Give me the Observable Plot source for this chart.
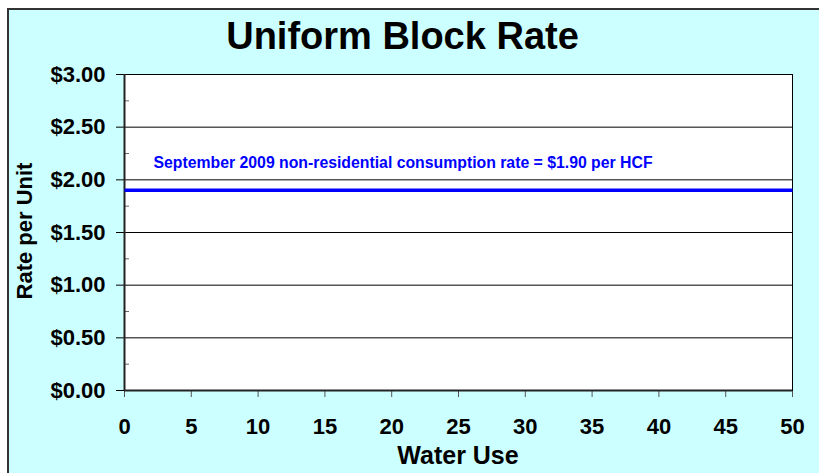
<!DOCTYPE html>
<html>
<head>
<meta charset="utf-8">
<script src="https://cdn.jsdelivr.net/npm/d3@7"></script>
<script src="https://cdn.jsdelivr.net/npm/@observablehq/plot@0.6"></script>
<style>
  html, body { margin: 0; padding: 0; background: #ffffff; overflow: hidden; width: 819px; height: 473px; }
  body { position: relative; font-family: "Liberation Sans", Arial, sans-serif; }
  #frame { position: absolute; left: 7px; top: 8px; width: 900px; height: 600px;
           background: #CCFFFF; border: 2px solid #333333; box-sizing: border-box; }
  .lbl { position: absolute; font-weight: bold; color: #000; line-height: 1; white-space: nowrap; text-align: center; }
  #title { left: 0; width: 805px; top: 17px; font-size: 38px; }
  #xlabel { left: 124px; width: 668px; top: 443px; font-size: 25px; }
  #ylabel { left: -124.6px; top: 219.5px; width: 300px; height: 22px; font-size: 22px; transform: rotate(-90deg); transform-origin: 150px 11px; }
  #chart { position: absolute; left: 0; top: 0; }
</style>
</head>
<body>
<div id="frame"></div>
<div id="chart"></div>
<div class="lbl" id="title">Uniform Block Rate</div>
<div class="lbl" id="xlabel">Water Use</div>
<div class="lbl" id="ylabel">Rate per Unit</div>
<script>
// Data
const waterUse = [0, 50];
const rate = [1.90, 1.90];
const xTicks = [0, 5, 10, 15, 20, 25, 30, 35, 40, 45, 50];
const yTicks = [0, 0.5, 1.0, 1.5, 2.0, 2.5, 3.0];
const yMinorTicks = [0.25, 0.75, 1.25, 1.75, 2.25, 2.75];
const annotation = ["September 2009 non-residential consumption rate = $1.90 per HCF"];

const W = 819, H = 473;
const mL = 124, mR = 27, mT = 74, mB = 83;
const lineData = waterUse.map((x, i) => ({x, y: rate[i]}));

const chart = Plot.plot({
  width: W,
  height: H,
  marginLeft: mL,
  marginRight: mR,
  marginTop: mT,
  marginBottom: mB,
  style: {background: "transparent", fontFamily: "Liberation Sans, Arial, sans-serif", fontWeight: "bold", color: "#000", overflow: "visible"},
  x: {domain: [0, 50]},
  y: {domain: [0, 3]},
  marks: [
    Plot.frame({fill: "white", stroke: "none"}),
    Plot.gridY(yTicks.filter(d => d > 0 && d < 3), {stroke: "#000", strokeOpacity: 1, strokeWidth: 1}),
    Plot.tickY(yMinorTicks, {stroke: "#666", strokeWidth: 1, insetRight: W - mL - mR - 5}),
    Plot.axisY({ticks: yTicks, tickSize: 8, tickPadding: 11, fontSize: 22, fontWeight: "bold",
                tickFormat: d => "$" + d.toFixed(2), label: null, stroke: "#000"}),
    Plot.axisX({ticks: xTicks, tickSize: 7, tickPadding: 21, fontSize: 22, fontWeight: "bold",
                tickFormat: d => String(d), label: null, stroke: "#555"}),
    Plot.frame({stroke: "#000", strokeWidth: 1}),
    Plot.ruleX([0], {stroke: "#222", strokeWidth: 2}),
    Plot.ruleY([0], {stroke: "#222", strokeWidth: 2}),
    Plot.line(lineData, {x: "x", y: "y", stroke: "#0000FF", strokeWidth: 3.5, strokeLinecap: "butt"}),
    Plot.text(annotation, {x: 2.17, y: 2.108, text: d => d, textAnchor: "start", lineAnchor: "bottom",
                           fill: "#0000FF", fontSize: 15.8, fontWeight: "bold"})
  ]
});
document.getElementById("chart").appendChild(chart);
</script>
</body>
</html>
